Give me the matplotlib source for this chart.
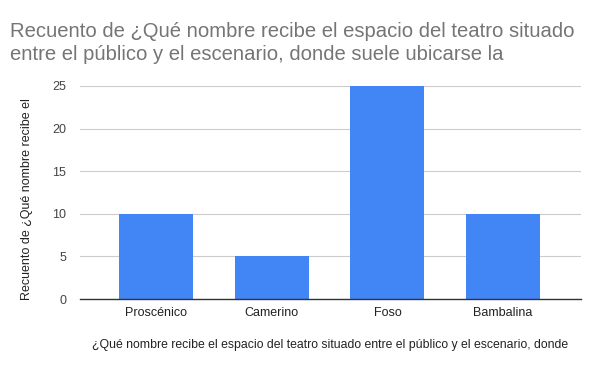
import matplotlib
matplotlib.use("Agg")
import matplotlib.pyplot as plt

categories = ["Proscénico", "Camerino", "Foso", "Bambalina"]
values = [10, 5, 25, 10]
yticks = [0, 5, 10, 15, 20, 25]

plt.rcParams['font.family'] = ['Liberation Sans', 'DejaVu Sans']

fig = plt.figure(figsize=(6, 3.71), dpi=100)
ax = fig.add_axes([80/600, 1 - 299/371, (581 - 80)/600, (299 - 86)/371])

x = list(range(len(categories)))
ax.bar(x, values, width=0.64, color="#4285F4", zorder=3, clip_on=False)

ax.set_xlim(-0.657, 3.673)
ax.set_ylim(0, 25)
ax.set_yticks(yticks)
ax.set_xticks(x)
ax.set_xticklabels(categories, fontsize=9, color="#222222")
ax.tick_params(axis='y', labelsize=9, labelcolor="#444444", length=0, pad=10)
ax.tick_params(axis='x', length=0, pad=6)
ax.grid(axis='y', color="#CCCCCC", linewidth=0.8, zorder=0)
for s in ["top", "right", "left"]:
    ax.spines[s].set_visible(False)
ax.spines["bottom"].set_color("#333333")
ax.spines["bottom"].set_linewidth(1)
ax.spines["bottom"].set_zorder(4)

fig.text(330/600, 1 - 345/371,
         "¿Qué nombre recibe el espacio del teatro situado entre el público y el escenario, donde",
         fontsize=8.8, color="#222222", ha="center", va="center")
fig.text(27/600, 1 - 199/371, "Recuento de ¿Qué nombre recibe el",
         fontsize=9, color="#222222", ha="center", va="center", rotation=90)

fig.text(10/600, 1 - 37/371,
         "Recuento de ¿Qué nombre recibe el espacio del teatro situado",
         fontsize=14.6, color="#757575", ha="left", va="baseline")
fig.text(10/600, 1 - 60/371,
         "entre el público y el escenario, donde suele ubicarse la",
         fontsize=14.6, color="#757575", ha="left", va="baseline")

fig.savefig("out.png", dpi=100)
